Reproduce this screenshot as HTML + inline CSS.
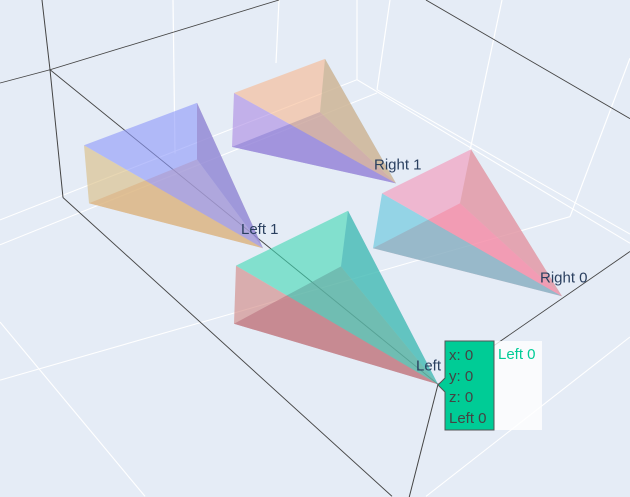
<!DOCTYPE html>
<html><head><meta charset="utf-8"><style>
html,body{margin:0;padding:0;background:#e5ecf6;overflow:hidden;}
svg{display:block;font-family:"Liberation Sans",sans-serif;}
</style></head><body>
<svg id="chart" width="630" height="497" viewBox="0 0 630 497">
<rect x="0" y="0" width="630" height="497" fill="#e5ecf6"/>
<g id="grid" stroke="#ffffff" stroke-width="1.2" fill="none" transform="scale(1,0.83)">
<line x1="173" y1="0" x2="175" y2="185"/><line x1="279" y1="0" x2="276" y2="76"/>
<line x1="390" y1="0" x2="377" y2="108"/><line x1="502" y1="0" x2="470" y2="181"/>
<line x1="630" y1="70" x2="570" y2="261"/>
<line x1="0" y1="265" x2="357" y2="96"/><line x1="0" y1="295" x2="377" y2="112"/>
<line x1="357" y1="96" x2="630" y2="293"/><line x1="377" y1="108" x2="630" y2="282"/>
<line x1="0" y1="458" x2="570" y2="261"/><line x1="0" y1="388" x2="145" y2="598"/>
<line x1="426" y1="598" x2="630" y2="406"/><line x1="357" y1="96" x2="357" y2="0"/>
</g>
<g stroke="#444" stroke-width="1" fill="none" transform="scale(1,0.83)">
<line x1="42" y1="0" x2="50" y2="84"/><line x1="50" y1="84" x2="63" y2="238"/>
<line x1="50" y1="84" x2="438" y2="463"/><line x1="63" y1="238" x2="392" y2="598"/>
<line x1="0" y1="100" x2="50" y2="84"/><line x1="50" y1="84" x2="279" y2="0"/>
<line x1="426" y1="0" x2="630" y2="143"/><line x1="438" y1="463" x2="630" y2="303"/>
<line x1="438" y1="463" x2="409" y2="600"/>
</g>
<g id="meshes"></g>
<g id="labels" font-size="15" fill="#2a3f5f"></g>
<g>
<rect x="494" y="341" width="48" height="89" fill="#ffffff" fill-opacity="0.8"/>
<text x="498" y="359" font-size="15" fill="#00cc96">Left 0</text>
<path d="M445,341 H494 V430 H445 V392 L438,385 L445,378 Z" fill="#00cc96" stroke="#555" stroke-width="1"/>
<g font-size="15" fill="#444"><text x="449" y="360">x: 0</text><text x="449" y="381">y: 0</text><text x="449" y="402">z: 0</text><text x="449" y="423">Left 0</text></g>
</g>
</svg>
<script>
// pyramid data: names and grid positions
const names=["Left 0","Right 0","Left 1","Right 1"];
const xs=[0,1,0,1];
const ys=[0,0,1,1];
const faceColors=[
 ["#9c5a80","#d0847f","#6378c0","#3fd8b4"],
 ["#f87a80","#5ec4dc","#b8a078","#f494b8"],
 ["#e2a284","#d8bc80","#a06078","#8c98fa"],
 ["#6378c0","#aa88e2","#66aca2","#f6b890"]
];
// projection anchors (screen geometry of the scene)
const SY=0.83;
const apexA=[[438,463],[562,357],[263,299],[396,221]];
const baseA=[
 [[236,320],[348,254],[341,321],[234,390]],
 [[382,233],[471,180],[460,245],[373,299]],
 [[84,175],[197,124],[197,192],[89,245]],
 [[234,112],[325,71],[320,135],[232,177]]
];
function bil(arr,x,y){const a=arr[0],b=arr[1],c=arr[2],d=arr[3];
 return [a[0]*(1-x)*(1-y)+b[0]*x*(1-y)+c[0]*(1-x)*y+d[0]*x*y,
         (a[1]*(1-x)*(1-y)+b[1]*x*(1-y)+c[1]*(1-x)*y+d[1]*x*y)*SY];}
function projApex(x,y){return bil(apexA,x,y);}
function projBase(x,y,k){return bil(baseA.map(b=>b[k]),x,y);}
const NS="http://www.w3.org/2000/svg";
const g=document.getElementById('meshes'),lg=document.getElementById('labels');
for(let i=0;i<names.length;i++){
 const p=projApex(xs[i],ys[i]);
 const b=[0,1,2,3].map(k=>projBase(xs[i],ys[i],k));
 const faces=[[b[3],b[2]],[b[0],b[3]],[b[1],b[2]],[b[0],b[1]]];
 const grp=document.createElementNS(NS,'g');
 
 
 faces.forEach((f,j)=>{
  const poly=document.createElementNS(NS,'polygon');
  poly.setAttribute('points',[p,f[0],f[1]].map(q=>q[0].toFixed(1)+','+q[1].toFixed(1)).join(' '));
  poly.setAttribute('fill',faceColors[i][j]);
  poly.setAttribute('fill-opacity','0.6');
  
  
  grp.appendChild(poly);
 });
 g.appendChild(grp);
 const t=document.createElementNS(NS,'text');
 t.setAttribute('x',(p[0]-22).toFixed(1));t.setAttribute('y',(p[1]-14).toFixed(1));
 t.textContent=names[i];
 
 
 lg.appendChild(t);
}
</script>
</body></html>
